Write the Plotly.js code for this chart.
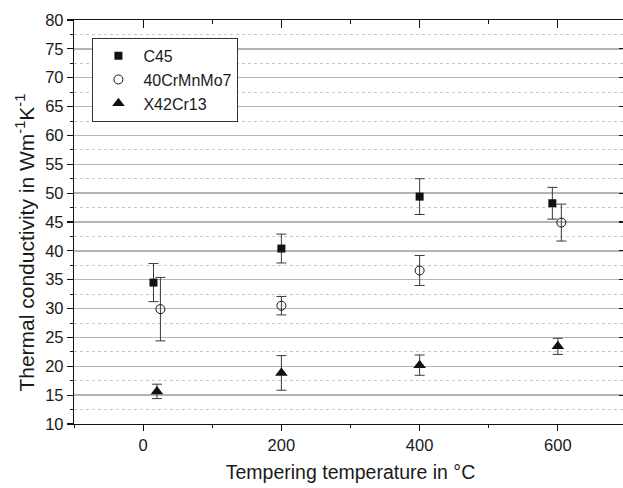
<!DOCTYPE html>
<html>
<head>
<meta charset="utf-8">
<script src="https://cdn.plot.ly/plotly-3.0.1.min.js"></script>
<style>
html, body { margin: 0; padding: 0; overflow: hidden; background: #fff; }
#chart { width: 630px; height: 488px; }
</style>
</head>
<body>
<div id="chart"></div>
<script>
// Data
const seriesNames = ["C45", "40CrMnMo7", "X42Cr13"];
const tempC45 = [15, 200, 400, 592];
const valC45 = [34.5, 40.4, 49.4, 48.25];
const errC45 = [3.3, 2.5, 3.1, 2.75];

const tempCrMnMo = [25, 200, 400, 605];
const valCrMnMo = [29.9, 30.5, 36.6, 44.9];
const errCrMnMo = [5.5, 1.6, 2.6, 3.2];

const tempX42 = [20, 200, 400, 600];
const valX42 = [15.65, 18.85, 20.2, 23.45];
const errX42 = [1.25, 3.0, 1.76, 1.4];

const xTitle = "Tempering temperature in °C";
const yTitle = "Thermal conductivity in Wm<sup>-1</sup>K<sup>-1</sup>";

const FONT = "Liberation Sans, Arial, sans-serif";
const errStyle = (arr) => ({type: "data", array: arr, visible: true, color: "#3a3a3a", thickness: 1, width: 5});

const traces = [
  {x: tempC45, y: valC45, name: seriesNames[0], mode: "markers", type: "scatter",
   marker: {symbol: "square", size: 8, color: "#111"}, error_y: errStyle(errC45)},
  {x: tempCrMnMo, y: valCrMnMo, name: seriesNames[1], mode: "markers", type: "scatter",
   marker: {symbol: "circle-open", size: 9, color: "#111", line: {width: 1, color: "#111"}}, error_y: errStyle(errCrMnMo)},
  {x: tempX42, y: valX42, name: seriesNames[2], mode: "markers", type: "scatter",
   marker: {symbol: "triangle-up", size: 11, color: "#111"}, error_y: errStyle(errX42)},
  {x: [], y: [], xaxis: "x2", yaxis: "y2", showlegend: false, hoverinfo: "skip", type: "scatter", mode: "markers"}
];

const layout = {
  width: 630, height: 488,
  margin: {l: 74.3, r: 3, t: 19.5, b: 63.5},
  paper_bgcolor: "#fff", plot_bgcolor: "#fff",
  font: {family: FONT, color: "#1a1a1a", size: 16},
  showlegend: true,
  legend: {
    x: 0.0333, y: 0.956, xanchor: "left", yanchor: "top",
    bgcolor: "#fff", bordercolor: "#333", borderwidth: 1,
    font: {family: FONT, size: 16, color: "#1a1a1a"},
    itemwidth: 40,
    tracegroupgap: 0
  },
  annotations: [{
    text: yTitle, textangle: -90, xref: "paper", yref: "paper",
    x: (25 - 74.3) / 552.7, y: 1 - (243 - 19.5) / 405,
    xanchor: "center", yanchor: "middle", showarrow: false,
    font: {family: FONT, size: 21, color: "#1a1a1a"}
  }],
  xaxis: {
    range: [-100, 700], dtick: 200, tick0: 0,
    showgrid: false, zeroline: false,
    showline: true, linecolor: "#111", linewidth: 1.2,
    ticks: "outside", ticklen: 6, tickwidth: 1.2, tickcolor: "#111",
    minor: {dtick: 100, ticks: "outside", ticklen: 3, tickwidth: 1, tickcolor: "#111", showgrid: false},
    tickfont: {family: FONT, size: 16.5, color: "#1a1a1a"},
    title: {text: xTitle, font: {family: FONT, size: 19.5, color: "#1a1a1a"}, standoff: 12}
  },
  yaxis: {
    range: [10, 80], dtick: 5, tick0: 10,
    showgrid: true, gridcolor: "#b5b5b5", gridwidth: 1.5,
    zeroline: false,
    showline: true, linecolor: "#111", linewidth: 1.2,
    ticks: "outside", ticklen: 6, tickwidth: 1.2, tickcolor: "#111",
    minor: {dtick: 2.5, ticks: "outside", ticklen: 3, tickwidth: 1, tickcolor: "#111",
            showgrid: true, gridcolor: "#c8c8c8", gridwidth: 1, griddash: "3px,3px"},
    tickfont: {family: FONT, size: 16.5, color: "#1a1a1a"}
  },
  xaxis2: {
    overlaying: "x", side: "top", range: [-100, 700], dtick: 200, tick0: 0,
    showgrid: false, zeroline: false, showticklabels: false,
    showline: true, linecolor: "#111", linewidth: 1.2,
    ticks: "inside", ticklen: 8, tickwidth: 1.2, tickcolor: "#111",
    minor: {dtick: 100, ticks: "inside", ticklen: 4, tickwidth: 1, tickcolor: "#111", showgrid: false}
  },
  yaxis2: {
    overlaying: "y", side: "right", range: [10, 80], dtick: 5, tick0: 10,
    showgrid: false, zeroline: false, showticklabels: false,
    showline: true, linecolor: "#111", linewidth: 1.2,
    ticks: "inside", ticklen: 8, tickwidth: 1.2, tickcolor: "#111",
    minor: {dtick: 2.5, ticks: "inside", ticklen: 4, tickwidth: 1, tickcolor: "#111", showgrid: false}
  }
};

Plotly.newPlot("chart", traces, layout, {displayModeBar: false, staticPlot: true});
</script>
</body>
</html>
